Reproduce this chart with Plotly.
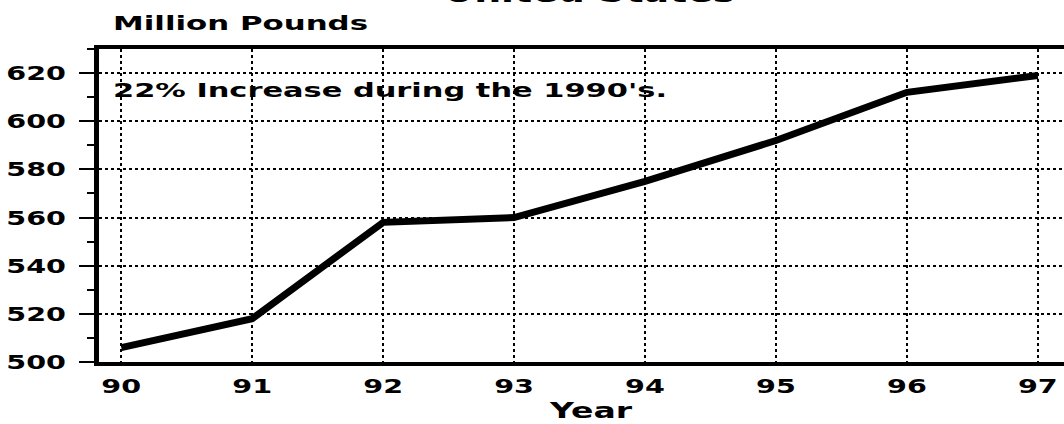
import plotly.graph_objects as go

years = [90, 91, 92, 93, 94, 95, 96, 97]
pounds = [506, 518, 558, 560, 575, 592, 612, 619]
y_ticks = [500, 520, 540, 560, 580, 600, 620]
title_text = "United States"
y_title = "Million Pounds"
x_title = "Year"
note_text = "22% Increase during the 1990's."

FONT = "DejaVu Sans"

fig = go.Figure()
fig.add_trace(go.Scatter(
    x=years, y=pounds, mode="lines",
    line=dict(color="black", width=7),
    hoverinfo="skip", showlegend=False,
))

fig.update_layout(
    width=1064, height=424,
    margin=dict(l=99, r=0, t=49, b=62),
    paper_bgcolor="white", plot_bgcolor="white",
    font=dict(family=FONT, color="black", size=20, weight="bold"),
    xaxis=dict(
        range=[89.83, 97.2],
        tickvals=years, ticktext=[str(y) for y in years],
        showgrid=True, gridcolor="black", griddash="dot", gridwidth=1.5,
        showline=True, linecolor="black", linewidth=4, mirror=True,
        ticks="", ticklabelstandoff=3,
        tickfont=dict(family=FONT, size=20, weight="bold"),
        zeroline=False,
    ),
    yaxis=dict(
        range=[500, 630],
        tickvals=y_ticks,
        showgrid=True, gridcolor="black", griddash="dot", gridwidth=1.5,
        showline=True, linecolor="black", linewidth=5, mirror=False,
        ticks="outside", ticklen=15, tickwidth=1.5, tickcolor="black",
        minor=dict(dtick=10, ticks="outside", ticklen=7, tickwidth=1.5,
                   tickcolor="black", showgrid=False),
        ticklabelstandoff=9,
        tickfont=dict(family=FONT, size=20, weight="bold"),
        zeroline=False,
    ),
    annotations=[
        dict(text=title_text, xref="paper", yref="paper", x=0.508, y=1.118,
             xanchor="center", yanchor="bottom", showarrow=False,
             font=dict(family=FONT, size=32, weight="bold")),
        dict(text=y_title, xref="paper", yref="paper", x=0.1466, y=1.083,
             xanchor="center", yanchor="middle", showarrow=False,
             font=dict(family=FONT, size=19, weight="bold")),
        dict(text=note_text, xref="paper", yref="paper", x=0.3016, y=0.869,
             xanchor="center", yanchor="middle", showarrow=False,
             font=dict(family=FONT, size=19, weight="bold")),
        dict(text=x_title, xref="paper", yref="paper", x=0.51, y=-0.158,
             xanchor="center", yanchor="middle", showarrow=False,
             font=dict(family=FONT, size=21, weight="bold")),
    ],
)

# The original uses a very wide (extended) bold face; stretch the glyphs horizontally.
post = """
document.body.style.margin = '0';
var gd = document.getElementById('{plot_id}');
function stretch(el, f) {
  var w = el.getComputedTextLength();
  el.setAttribute('textLength', (w * f).toFixed(1));
  el.setAttribute('lengthAdjust', 'spacingAndGlyphs');
}
gd.querySelectorAll('g.xtick text, g.ytick text').forEach(function (t) { stretch(t, 1.43); });
var targets = [292, 255, 554, 82];
gd.querySelectorAll('g.annotation').forEach(function (g) {
  var i = +g.getAttribute('data-index');
  var t = g.querySelector('text.annotation-text');
  if (t && targets[i]) { stretch(t, targets[i] / t.getComputedTextLength()); }
});
"""

fig.write_html("out.html", post_script=post, config={"displayModeBar": False})
